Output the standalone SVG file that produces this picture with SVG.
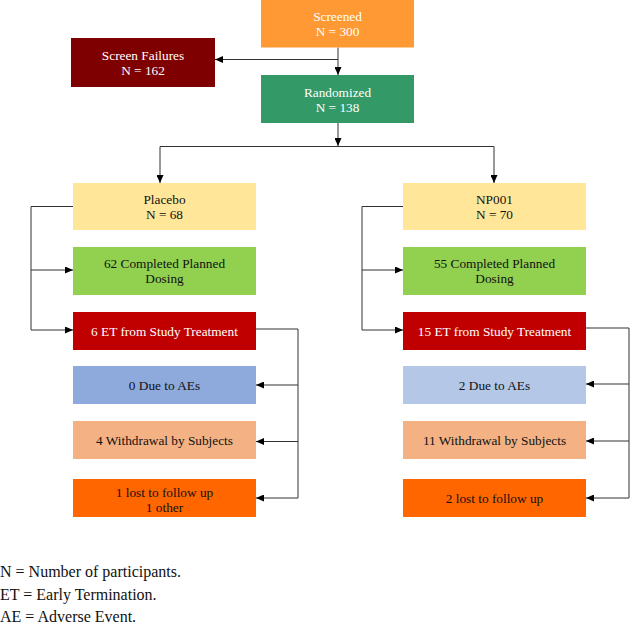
<svg xmlns="http://www.w3.org/2000/svg" width="630" height="631" viewBox="0 0 630 631">
<defs>
<marker id="ah" markerWidth="8" markerHeight="7" refX="8" refY="3.5" orient="auto" markerUnits="userSpaceOnUse">
<path d="M0,0 L8,3.5 L0,7 Z" fill="#000"/>
</marker>
<style>
.t{font-family:"Liberation Serif","Times New Roman",serif;font-size:13.3px;text-anchor:middle;fill:#111}
.w{fill:#fff}
.c{fill:none;stroke:#333;stroke-width:1}
.a{marker-end:url(#ah)}
.lg{font-family:"Liberation Serif","Times New Roman",serif;font-size:16px;fill:#111}
</style>
</defs>
<rect width="630" height="631" fill="#fff"/>
<g id="connectors">
<path class="c a" d="M338,47.5 V75"/>
<path class="c a" d="M338,59.5 H215"/>
<path class="c a" d="M338,123 V146"/>
<path class="c" d="M160,146.5 H494"/>
<path class="c a" d="M160,146.5 V183"/>
<path class="c a" d="M494,146.5 V183"/>
<path class="c" d="M73,206.5 H31 V330"/>
<path class="c a" d="M31,270 H73"/>
<path class="c a" d="M31,330 H73"/>
<path class="c" d="M256,329 H298 V498"/>
<path class="c a" d="M298,385 H256"/>
<path class="c a" d="M298,441.5 H256"/>
<path class="c a" d="M298,498 H256"/>
<path class="c" d="M403,206.5 H362 V330"/>
<path class="c a" d="M362,270 H403"/>
<path class="c a" d="M362,330 H403"/>
<path class="c" d="M586,328 H629 V498"/>
<path class="c a" d="M629,384 H586"/>
<path class="c a" d="M629,441 H586"/>
<path class="c a" d="M629,498 H586"/>
</g>
<g id="screened"><rect x="261" y="0" width="153" height="47.5" fill="#FF9933"/><text class="t w" x="337.5" y="21">Screened</text><text class="t w" x="337.5" y="36">N = 300</text></g>
<g id="screen-failures"><rect x="71" y="38" width="144" height="49" fill="#7F0000"/><text class="t w" x="143" y="59.5">Screen Failures</text><text class="t w" x="143" y="75">N = 162</text></g>
<g id="randomized"><rect x="261" y="75" width="153" height="48" fill="#339966"/><text class="t w" x="337.5" y="96.5">Randomized</text><text class="t w" x="337.5" y="111.5">N = 138</text></g>
<g id="placebo"><rect x="73" y="183" width="183" height="47" fill="#FFE699"/><text class="t" x="164.5" y="204">Placebo</text><text class="t" x="164.5" y="218.5">N = 68</text></g>
<g id="placebo-completed"><rect x="73" y="247" width="183" height="48" fill="#92D050"/><text class="t" x="164.5" y="268">62 Completed Planned</text><text class="t" x="164.5" y="283">Dosing</text></g>
<g id="placebo-et"><rect x="73" y="312" width="183" height="38" fill="#C00000"/><text class="t w" x="164.5" y="335.5">6 ET from Study Treatment</text></g>
<g id="placebo-ae"><rect x="73" y="366" width="183" height="38" fill="#8EA9DB"/><text class="t" x="164.5" y="389.5">0 Due to AEs</text></g>
<g id="placebo-wd"><rect x="73" y="421" width="183" height="38" fill="#F4B183"/><text class="t" x="164.5" y="444.5">4 Withdrawal by Subjects</text></g>
<g id="placebo-lost"><rect x="73" y="479" width="183" height="38" fill="#FF6600"/><text class="t" x="164.5" y="497">1 lost to follow up</text><text class="t" x="164.5" y="512">1 other</text></g>
<g id="np001"><rect x="403" y="183" width="183" height="47" fill="#FFE699"/><text class="t" x="494.5" y="204">NP001</text><text class="t" x="494.5" y="218.5">N = 70</text></g>
<g id="np001-completed"><rect x="403" y="247" width="183" height="48" fill="#92D050"/><text class="t" x="494.5" y="268">55 Completed Planned</text><text class="t" x="494.5" y="283">Dosing</text></g>
<g id="np001-et"><rect x="403" y="312" width="183" height="38" fill="#C00000"/><text class="t w" x="494.5" y="335.5">15 ET from Study Treatment</text></g>
<g id="np001-ae"><rect x="403" y="366" width="183" height="38" fill="#B4C7E7"/><text class="t" x="494.5" y="389.5">2 Due to AEs</text></g>
<g id="np001-wd"><rect x="403" y="421" width="183" height="38" fill="#F4B183"/><text class="t" x="494.5" y="444.5">11 Withdrawal by Subjects</text></g>
<g id="np001-lost"><rect x="403" y="479" width="183" height="38" fill="#FF6600"/><text class="t" x="494.5" y="502.5">2 lost to follow up</text></g>
<g id="legend">
<text class="lg" x="0" y="577">N = Number of participants.</text>
<text class="lg" x="0" y="599.5">ET = Early Termination.</text>
<text class="lg" x="0" y="622">AE = Adverse Event.</text>
</g>
</svg>
